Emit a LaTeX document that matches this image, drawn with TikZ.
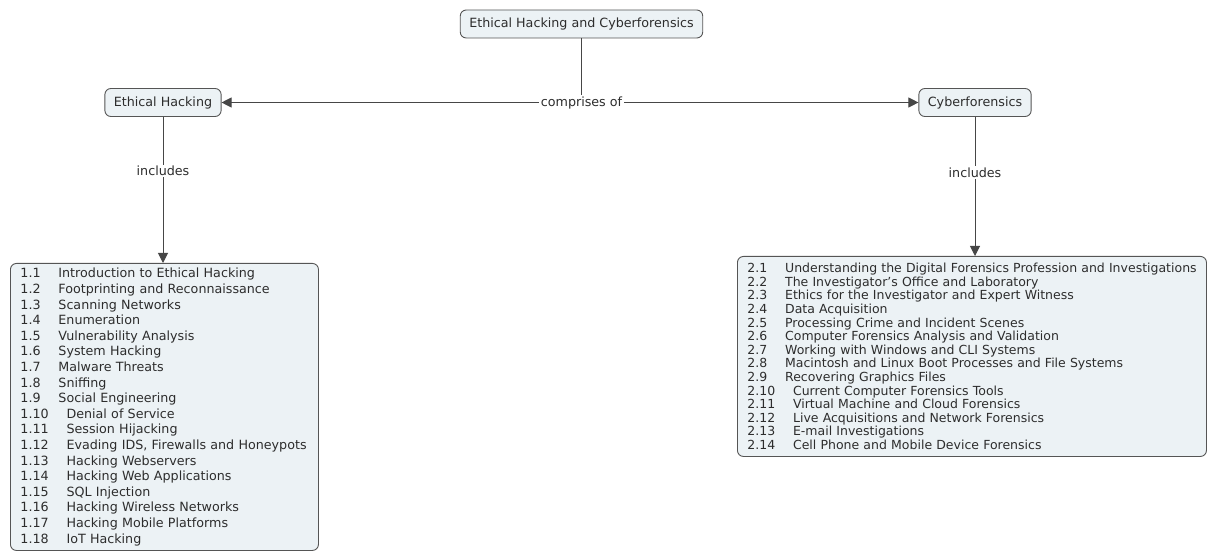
\documentclass[tikz,border=0pt]{standalone}
\usepackage{fontspec}
\setmainfont{DejaVu Sans}
\usetikzlibrary{arrows.meta}
\definecolor{boxfill}{RGB}{236,242,245}
\definecolor{boxline}{RGB}{85,85,85}
\definecolor{linkc}{RGB}{70,70,70}
\definecolor{txt}{RGB}{45,45,45}
\newcommand\myitem[2]{\mbox{#1\hspace{17.8pt}#2}}
\begin{document}
\begin{tikzpicture}[x=1pt,y=-1pt,
  concept/.style={draw=boxline, fill=boxfill, rounded corners=6pt, line width=0.9pt,
    inner xsep=9pt, inner ysep=0pt, minimum height=28pt,
    font=\fontsize{12.7}{14}\selectfont, text=txt},
  listbox/.style={concept, align=left, anchor=north west, inner xsep=10pt},
  link/.style={draw=linkc, line width=1pt},
  arr/.style={link, -{Triangle[length=10pt,width=10pt]}},
  lbl/.style={fill=white, inner sep=1.5pt, font=\fontsize{12.7}{14}\selectfont, text=txt}]
\useasboundingbox (0,0) rectangle (1208,553);
\node[concept] (top) at (581.5,24) {Ethical Hacking and Cyberforensics};
\node[concept] (eh) at (163,102.5) {Ethical Hacking};
\node[concept] (cf) at (975,102.5) {Cyberforensics};
\node[listbox, minimum width=308pt, text width=288pt, minimum height=287pt,
  font=\fontsize{12.7}{15.6}\selectfont] (lb) at (10,263) {%
\myitem{1.1}{Introduction to Ethical Hacking}\\
\myitem{1.2}{Footprinting and Reconnaissance}\\
\myitem{1.3}{Scanning Networks}\\
\myitem{1.4}{Enumeration}\\
\myitem{1.5}{Vulnerability Analysis}\\
\myitem{1.6}{System Hacking}\\
\myitem{1.7}{Malware Threats}\\
\myitem{1.8}{Sniffing}\\
\myitem{1.9}{Social Engineering}\\
\myitem{1.10}{Denial of Service}\\
\myitem{1.11}{Session Hijacking}\\
\myitem{1.12}{Evading IDS, Firewalls and Honeypots}\\
\myitem{1.13}{Hacking Webservers}\\
\myitem{1.14}{Hacking Web Applications}\\
\myitem{1.15}{SQL Injection}\\
\myitem{1.16}{Hacking Wireless Networks}\\
\myitem{1.17}{Hacking Mobile Platforms}\\
\myitem{1.18}{IoT Hacking}};
\node[listbox, minimum width=469pt, text width=449pt, minimum height=200pt,
  font=\fontsize{12.5}{13.6}\selectfont] (rb) at (737,256) {%
\myitem{2.1}{Understanding the Digital Forensics Profession and Investigations}\\
\myitem{2.2}{The Investigator’s Office and Laboratory}\\
\myitem{2.3}{Ethics for the Investigator and Expert Witness}\\
\myitem{2.4}{Data Acquisition}\\
\myitem{2.5}{Processing Crime and Incident Scenes}\\
\myitem{2.6}{Computer Forensics Analysis and Validation}\\
\myitem{2.7}{Working with Windows and CLI Systems}\\
\myitem{2.8}{Macintosh and Linux Boot Processes and File Systems}\\
\myitem{2.9}{Recovering Graphics Files}\\
\myitem{2.10}{Current Computer Forensics Tools}\\
\myitem{2.11}{Virtual Machine and Cloud Forensics}\\
\myitem{2.12}{Live Acquisitions and Network Forensics}\\
\myitem{2.13}{E-mail Investigations}\\
\myitem{2.14}{Cell Phone and Mobile Device Forensics}};
\coordinate (j) at (top.south |- eh.east);
\draw[link] (top.south) -- (j);
\draw[arr] (j) -- (eh.east);
\draw[arr] (j) -- (cf.west);
\node[lbl] (comp) at (j) {comprises of};
\draw[arr] (eh.south) -- node[lbl, pos=0.37] (inc1) {includes} (eh.south |- lb.north);
\draw[arr] (cf.south) -- node[lbl, pos=0.4] (inc2) {includes} (cf.south |- rb.north);
\end{tikzpicture}
\end{document}
